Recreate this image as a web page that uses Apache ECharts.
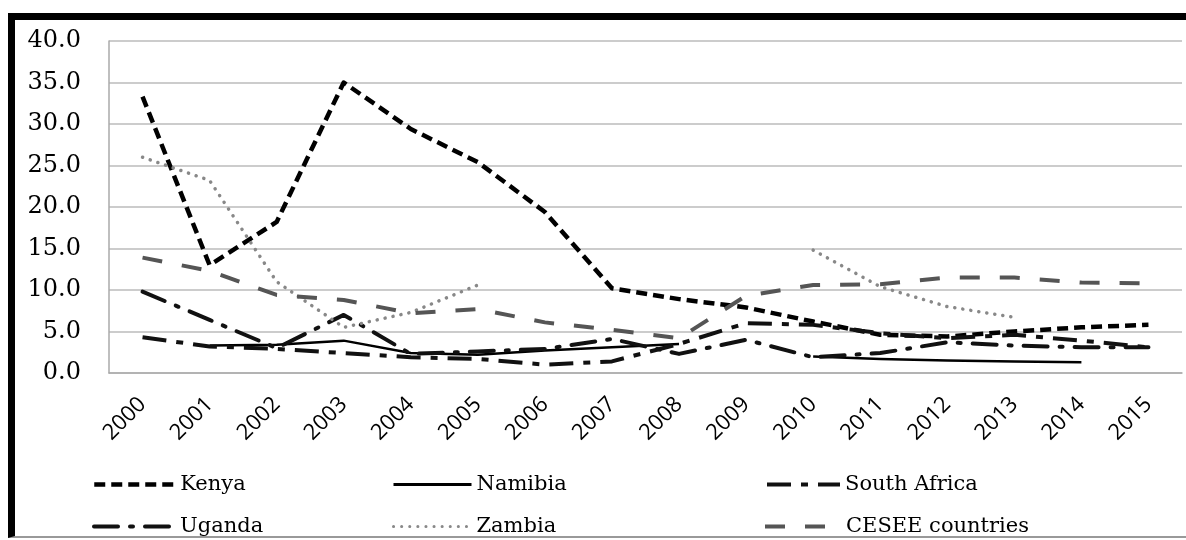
<!DOCTYPE html>
<html>
<head>
<meta charset="utf-8">
<script src="https://cdn.jsdelivr.net/npm/echarts@6/dist/echarts.min.js"></script>
<style>
html,body{margin:0;padding:0;background:#fff;}
#chart{position:absolute;left:0;top:0;width:1186px;height:540px;}
#frame{position:absolute;left:8px;top:13px;width:1178px;height:525px;border-top:7px solid #000;border-left:7px solid #000;border-bottom:2px solid #999;box-sizing:border-box;pointer-events:none;}
</style>
</head>
<body>
<div id="chart"></div>
<div id="frame"></div>
<script>
const years = ['2000','2001','2002','2003','2004','2005','2006','2007','2008','2009','2010','2011','2012','2013','2014','2015'];
const yTicks = [0,5,10,15,20,25,30,35,40];
const kenya   = [33.3,13.0,18.2,35.0,29.4,25.4,19.4,10.2,8.9,7.9,6.2,4.6,4.4,5.0,5.5,5.8];
const namibia = [null,3.3,3.4,3.9,2.4,2.2,2.7,3.1,3.5,null,2.0,1.7,1.5,1.4,1.3,null];
const southAfrica = [4.3,3.2,2.9,2.4,1.9,1.7,1.0,1.4,3.5,6.0,5.8,4.8,4.2,4.6,3.9,3.1];
const uganda  = [9.8,6.4,3.0,7.0,2.3,2.6,2.9,4.1,2.3,4.0,1.9,2.4,3.7,3.3,3.1,3.1];
const zambia  = [26.0,23.2,11.0,5.5,7.3,10.6,null,null,null,null,14.8,10.4,8.0,6.7,null,null];
const cesee   = [13.9,12.3,9.4,8.8,7.2,7.7,6.1,5.2,4.2,9.3,10.6,10.7,11.5,11.5,10.9,10.8];

const chart = echarts.init(document.getElementById('chart'), null, {renderer:'canvas'});
const serif = '"DejaVu Serif","Liberation Serif",serif';
function line(name, data, color, width, dash, cap){
  return {
    name, type:'line', data, symbol:'none', connectNulls:false, animation:false,
    lineStyle:{color, width, type:dash, cap:cap||'butt', join:'round'},
    itemStyle:{color}
  };
}
const legendText = {fontFamily:serif, fontSize:21, color:'#000'};
function leg(name, left, top, w, lw){
  return {show:true, orient:'horizontal', left, top, itemWidth:w, itemHeight:14, itemGap:0,
    textStyle:legendText, selectedMode:false, data:[name],
    itemStyle:{opacity:0}, lineStyle:{width:lw}};
}
chart.setOption({
  backgroundColor:'#fff',
  animation:false,
  grid:{left:109, right:4, top:41, bottom:167},
  xAxis:{
    type:'category', data:years, boundaryGap:true,
    axisLine:{show:true, lineStyle:{color:'#aaa', width:1.5}},
    axisTick:{show:false},
    axisLabel:{rotate:45, margin:28, fontFamily:'"Open Sans","Liberation Sans",sans-serif', fontSize:22, color:'#000', interval:0}
  },
  yAxis:{
    type:'value', min:0, max:40, interval:5,
    axisLine:{show:true, lineStyle:{color:'#aaa', width:1.5}},
    axisTick:{show:false},
    splitLine:{lineStyle:{color:'#bbb', width:1.5}},
    axisLabel:{margin:28, fontFamily:serif, fontSize:24, color:'#000', formatter:v=>v.toFixed(1)}
  },
  legend:[
    leg('Kenya', 87, 469, 81, 4.5),
    leg('Namibia', 387, 469, 78, 3),
    leg('South Africa', 760, 469, 73, 4),
    leg('Uganda', 87, 511, 81, 4),
    leg('Zambia', 387, 511, 78, 3),
    leg('CESEE countries', 758, 511, 76, 4)
  ],
  series:[
    line('Kenya', kenya, '#000', 4.5, [11,6]),
    line('Namibia', namibia, '#000', 2.5, 'solid'),
    line('South Africa', southAfrica, '#111', 4, [24,10,7,10]),
    line('Uganda', uganda, '#111', 4, [24,12,3,12], 'round'),
    line('Zambia', zambia, '#888', 3.5, [0.1,8], 'round'),
    line('CESEE countries', cesee, '#555', 4, [20,20])
  ]
});
</script>
</body>
</html>
